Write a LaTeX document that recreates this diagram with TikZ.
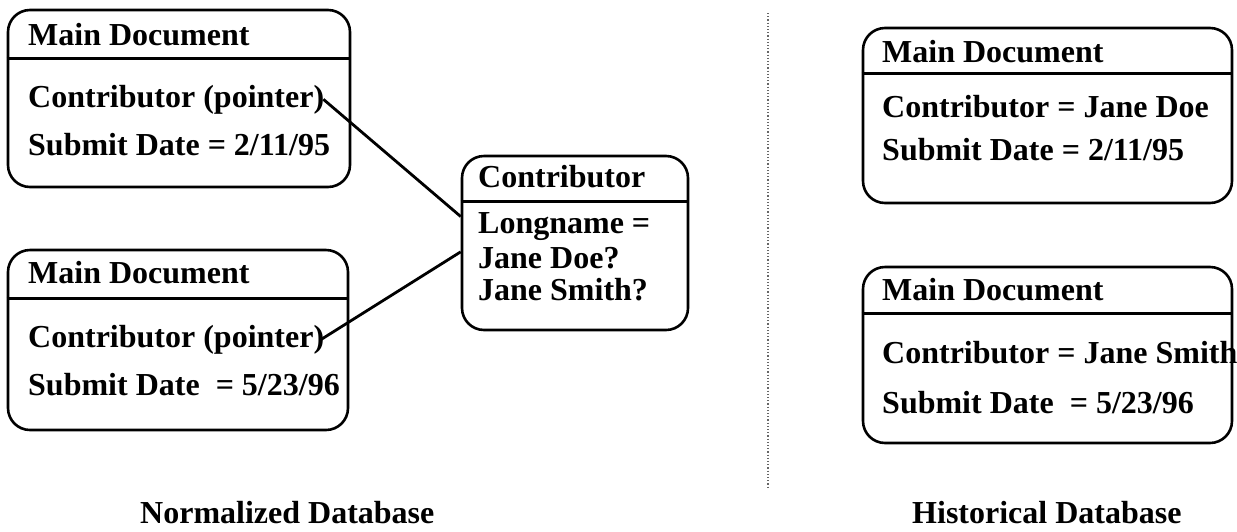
\documentclass[tikz,border=0pt]{standalone}
\usepackage{fontspec}
\setmainfont{Liberation Serif}
\usetikzlibrary{calc}
\tikzset{
  box/.style={draw, line width=2.6pt, rounded corners=22pt, inner sep=0pt},
  txt/.style={anchor=base west, inner sep=0pt, font=\fontsize{32}{38}\selectfont\bfseries},
  conn/.style={line width=2.8pt},
  hdr/.style={line width=2.6pt},
  sep/.style={draw=black!60, line width=1.2pt, dotted}
}
\begin{document}
\begin{tikzpicture}[x=1pt, y=-1pt]
\useasboundingbox (0,0) rectangle (1237,531);
% boxes
\node[box, minimum width=342pt, minimum height=177pt] (b1) at (179,98.5) {};
\node[box, minimum width=340pt, minimum height=180pt] (b2) at (178,340) {};
\node[box, minimum width=226pt, minimum height=174pt] (cb) at (575,243) {};
\node[box, minimum width=369pt, minimum height=175pt] (b3) at (1047.5,115.5) {};
\node[box, minimum width=369pt, minimum height=176pt] (b4) at (1047.5,355) {};
% header lines
\draw[hdr] ([yshift=-50pt]b1.north west) -- ([yshift=-50pt]b1.north east);
\draw[hdr] ([yshift=-50pt]b2.north west) -- ([yshift=-50pt]b2.north east);
\draw[hdr] ([yshift=-47pt]cb.north west) -- ([yshift=-47pt]cb.north east);
\draw[hdr] ([yshift=-47pt]b3.north west) -- ([yshift=-47pt]b3.north east);
\draw[hdr] ([yshift=-48pt]b4.north west) -- ([yshift=-48pt]b4.north east);
% texts box 1
\node[txt] (t1a) at (28,45) {Main Document};
\node[txt] (p1) at (28,107) {Contributor (pointer)};
\node[txt] (t1c) at (28,155) {Submit Date = 2/11/95};
% texts box 2
\node[txt] (t2a) at (28,283) {Main Document};
\node[txt] (p2) at (28,347) {Contributor (pointer)};
\node[txt] (t2c) at (28,395) {Submit Date\ \ = 5/23/96};
% contributor box
\node[txt] (ca) at (478,187) {Contributor};
\node[txt] (cb1) at (478,233) {Longname =};
\node[txt] (cb2) at (478,268) {Jane Doe?};
\node[txt] (cb3) at (478,300) {Jane Smith?};
% box 3
\node[txt] (t3a) at (882,62) {Main Document};
\node[txt] (t3b) at (882,117) {Contributor = Jane Doe};
\node[txt] (t3c) at (882,160) {Submit Date = 2/11/95};
% box 4
\node[txt] (t4a) at (882,300) {Main Document};
\node[txt] (t4b) at (882,363) {Contributor = Jane Smith};
\node[txt] (t4c) at (882,413) {Submit Date\ \ = 5/23/96};
% connectors
\draw[conn] ([xshift=-1pt]p1.east) -- ($(cb.north west)!0.35!(cb.south west)$);
\draw[conn] ([xshift=-3pt]p2.east) -- ($(cb.north west)!0.55!(cb.south west)$);
% separator
\coordinate (s1) at (768,13);
\coordinate (s2) at (768,487);
\draw[sep] (s1) -- (s2);
% captions
\node[txt] (cap1) at (140,523) {Normalized Database};
\node[txt] (cap2) at (912,523) {Historical Database};
\end{tikzpicture}
\end{document}
